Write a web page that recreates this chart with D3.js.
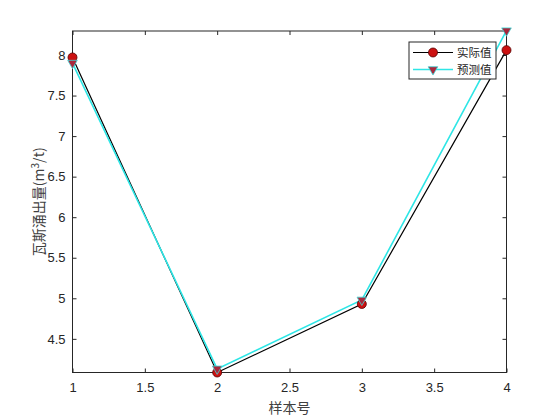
<!DOCTYPE html>
<html><head><meta charset="utf-8">
<script src="https://cdn.jsdelivr.net/npm/d3@7"></script>
<style>body{margin:0;background:#fff}svg{display:block}</style>
</head><body><svg id="c" width="560" height="420"></svg>
<script>
const samples = [1, 2, 3, 4];
const actual = [7.97, 4.085, 4.93, 8.06];
const predicted = [7.90, 4.13, 4.98, 8.30];
const seriesNames = ["实际值", "预测值"];
const xTicks = [1, 1.5, 2, 2.5, 3, 3.5, 4];
const yTicks = [4.5, 5, 5.5, 6, 6.5, 7, 7.5, 8];
const xLabel = "样本号";

const svg = d3.select("#c");
const L = 72.5, R = 506.5, T = 31, B = 372.5;
const x = d3.scaleLinear().domain([1, 4]).range([L, R]);
const y = d3.scaleLinear().domain([4.085, 8.296]).range([B, T]);
const fmt = d => String(d);
const tickFont = "Liberation Sans, Arial, sans-serif";

function styleAxis(g){
  g.select(".domain").remove();
  g.selectAll("line").attr("stroke","#262626");
  g.selectAll("text").attr("fill","#262626").style("font-family",tickFont).style("font-size","13px");
}
svg.append("g").attr("transform",`translate(0,${B})`)
  .call(d3.axisBottom(x).tickValues(xTicks).tickFormat(fmt).tickSizeInner(-4).tickSizeOuter(0).tickPadding(10))
  .call(styleAxis);
svg.append("g").attr("transform",`translate(0,${T})`)
  .call(d3.axisTop(x).tickValues(xTicks).tickFormat("").tickSizeInner(-4).tickSizeOuter(0))
  .call(styleAxis);
svg.append("g").attr("transform",`translate(${L},0)`)
  .call(d3.axisLeft(y).tickValues(yTicks).tickFormat(fmt).tickSizeInner(-4).tickSizeOuter(0).tickPadding(7))
  .call(styleAxis);
svg.append("g").attr("transform",`translate(${R},0)`)
  .call(d3.axisRight(y).tickValues(yTicks).tickFormat("").tickSizeInner(-4).tickSizeOuter(0))
  .call(styleAxis);
svg.append("rect").attr("x",L).attr("y",T).attr("width",R-L).attr("height",B-T)
  .attr("fill","none").attr("stroke","#262626").attr("stroke-width",1);

const line = d3.line().x((d,i)=>x(samples[i])).y(d=>y(d));
svg.append("path").datum(actual).attr("d",line).attr("fill","none").attr("stroke","#000").attr("stroke-width",1.2);
svg.append("path").datum(predicted).attr("d",line).attr("fill","none").attr("stroke","#2ee6e6").attr("stroke-width",1.6);

const tri = d3.symbol().type(d3.symbolTriangle).size(40);
function circ(g, cx, cy){ g.append("circle").attr("cx",cx).attr("cy",cy).attr("r",4.5).attr("fill","#cc1111").attr("stroke","#550000").attr("stroke-width",0.8); }
function triD(g, cx, cy){ g.append("path").attr("d",tri()).attr("transform",`translate(${cx},${cy}) rotate(180)`).attr("fill","#a8283c").attr("stroke","#40d8d8").attr("stroke-width",0.8); }
actual.forEach((v,i)=>circ(svg, x(samples[i]), y(v)));
predicted.forEach((v,i)=>triD(svg, x(samples[i]), y(v)));

// legend
const lg = svg.append("g");
const rowY = [52.5, 69.5];
lg.append("rect").attr("x",409).attr("y",42).attr("width",87).attr("height",37).attr("fill","#fff").attr("stroke","#262626").attr("stroke-width",1);
lg.append("line").attr("x1",413).attr("x2",453).attr("y1",rowY[0]).attr("y2",rowY[0]).attr("stroke","#000").attr("stroke-width",1.2);
circ(lg, 433, rowY[0]);
lg.append("line").attr("x1",413).attr("x2",453).attr("y1",rowY[1]).attr("y2",rowY[1]).attr("stroke","#2ee6e6").attr("stroke-width",1.6);
triD(lg, 433, rowY[1]);
seriesNames.forEach((s,i)=>lg.append("text").attr("x",457).attr("y",rowY[i]+4.3).text(s)
  .attr("fill","#262626").style("font-family","Noto Sans CJK SC").style("font-size","11.5px"));

svg.append("text").attr("x",(L+R)/2).attr("y",413).attr("text-anchor","middle").text(xLabel)
  .attr("fill","#404040").style("font-family","Noto Sans CJK SC").style("font-size","14px");
const yl = svg.append("text").attr("transform",`translate(44,${(T+B)/2}) rotate(-90)`).attr("text-anchor","middle")
  .attr("fill","#404040").style("font-family","Noto Sans CJK SC").style("font-size","14px");
yl.append("tspan").text("瓦斯涌出量(m");
yl.append("tspan").text("3").attr("dy",-5).style("font-size","10px");
yl.append("tspan").text("/t)").attr("dy",5);
</script></body></html>
